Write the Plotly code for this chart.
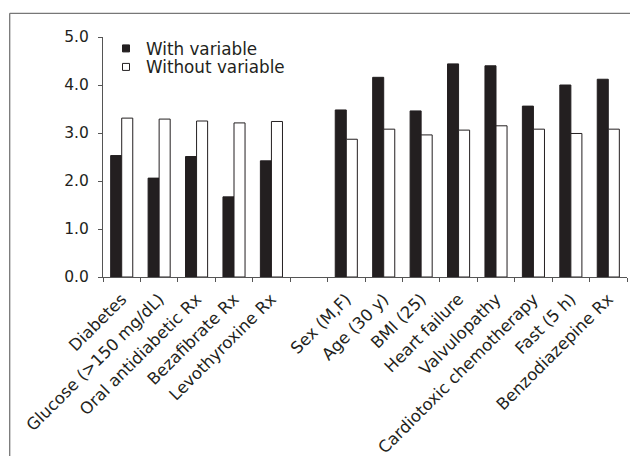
import plotly.graph_objects as go

categories = ["Diabetes", "Glucose (>150 mg/dL)", "Oral antidiabetic Rx", "Bezafibrate Rx",
              "Levothyroxine Rx", " ", "Sex (M,F)", "Age (30 y)", "BMI (25)", "Heart failure",
              "Valvulopathy", "Cardiotoxic chemotherapy", "Fast (5 h)", "Benzodiazepine Rx"]
with_variable = [2.53, 2.06, 2.51, 1.67, 2.42, None, 3.48, 4.16, 3.46, 4.44, 4.40, 3.56, 4.00, 4.12]
without_variable = [3.31, 3.29, 3.25, 3.21, 3.24, None, 2.87, 3.08, 2.96, 3.06, 3.15, 3.08, 2.99, 3.08]
series_names = ["With variable", "Without variable"]
y_ticks = [0, 1, 2, 3, 4, 5]

ink = "#231f20"
FONT = "DejaVu Sans, Arial, sans-serif"
W, H = 638, 456
OFF = 8  # page body margin offset
# target plot area in screen pixels
SL, SR, ST, SB = 103, 627, 37, 277
pw = SR - SL
ph = SB - ST

def px2x(p):
    return (p - SL) / pw

def py2y(p):
    return (SB - p) / ph

fig = go.Figure()
fig.add_trace(go.Bar(x=categories, y=with_variable, name=series_names[0], showlegend=False,
                     marker=dict(color=ink, line=dict(color=ink, width=1))))
fig.add_trace(go.Bar(x=categories, y=without_variable, name=series_names[1], showlegend=False,
                     marker=dict(color="white", line=dict(color=ink, width=1))))
# legend entries with small square symbols
fig.add_trace(go.Scatter(x=[None], y=[None], mode="markers", name=series_names[0], legend="legend",
                         marker=dict(symbol="square", size=7, color=ink, line=dict(color=ink, width=1))))
fig.add_trace(go.Scatter(x=[None], y=[None], mode="markers", name=series_names[1], legend="legend2",
                         marker=dict(symbol="square", size=7, color="white", line=dict(color=ink, width=1))))

fig.add_shape(type="line", xref="paper", yref="paper", x0=px2x(9.7), x1=px2x(660),
              y0=py2y(13.3), y1=py2y(13.3), line=dict(color="#777777", width=1.3))
fig.add_shape(type="line", xref="paper", yref="paper", x0=px2x(9.7), x1=px2x(9.7),
              y0=py2y(13.3), y1=py2y(470), line=dict(color="#777777", width=1.3))

leg_common = dict(xanchor="left", yanchor="middle", bgcolor="rgba(0,0,0,0)",
                  font=dict(size=16.8, family=FONT, color=ink), itemwidth=30, borderwidth=0)

fig.update_layout(
    width=W, height=H,
    margin=dict(l=SL - OFF, r=W - (SR - OFF), t=ST - OFF, b=H - (SB - OFF), autoexpand=False),
    paper_bgcolor="white", plot_bgcolor="white",
    barmode="group", bargap=0.41, bargroupgap=0,
    font=dict(family=FONT, size=14, color=ink),
    legend=dict(x=px2x(106), y=py2y(48.5), **leg_common),
    legend2=dict(x=px2x(106), y=py2y(67), **leg_common),
    xaxis=dict(type="category", range=[-0.5, 13.5], tickangle=-45, tickson="boundaries",
               ticks="outside", ticklen=4, tickcolor="#555555", showline=True,
               linecolor="#555555", linewidth=1, showgrid=False, automargin=False,
               ticklabelstandoff=5,
               tickfont=dict(size=16.5, color=ink, family=FONT)),
    yaxis=dict(range=[0, 5], tickvals=y_ticks, tickformat=".1f", ticks="outside", ticklen=4,
               tickcolor="#555555", showline=True, linecolor="#555555", linewidth=1,
               showgrid=False, zeroline=False, automargin=False, ticklabelstandoff=6,
               tickfont=dict(size=15.5, color=ink, family=FONT)),
)

fig.write_html("out.html")
